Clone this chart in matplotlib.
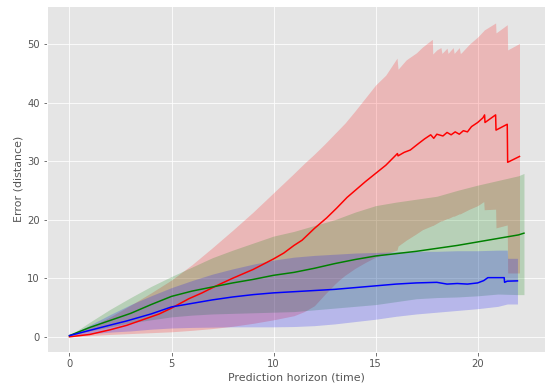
import matplotlib
matplotlib.use("Agg")
import matplotlib.pyplot as plt

plt.style.use("ggplot")

# ---- red series ----
red_mean_x = [0, 1, 2, 2.8, 3.5, 4.4, 5, 5.85, 6.5, 7.13, 8, 9, 10, 10.5, 11, 11.4, 12, 12.6, 13.1,
              13.6, 14, 14.5, 15, 15.5, 15.9, 16.07, 16.1, 16.4, 16.7, 17.1, 17.4, 17.7, 17.85, 18.0,
              18.3, 18.5, 18.7, 18.9, 19.1, 19.3, 19.5, 19.7, 20.0, 20.26, 20.34, 20.36, 20.88, 20.9,
              21.45, 21.47, 22.05]
red_mean = [0, 0.4, 1.2, 1.95, 2.8, 3.9, 4.9, 6.5, 7.5, 8.6, 10.0, 11.5, 13.3, 14.3, 15.6, 16.5, 18.5,
            20.3, 22.0, 23.8, 25.0, 26.5, 27.9, 29.3, 30.7, 31.3, 30.9, 31.5, 31.9, 33.0, 33.8, 34.5,
            33.9, 34.6, 34.3, 34.9, 34.5, 35.0, 34.6, 35.2, 35.0, 35.9, 36.6, 37.4, 37.9, 36.6, 37.9,
            35.3, 36.3, 29.8, 30.8]
red_band_x = [0, 1, 2, 3, 4, 5, 6, 7, 8, 9, 10, 11, 11.5, 12, 12.5, 13, 13.25, 13.5, 14, 14.5, 15,
              15.5, 16.05, 16.1, 16.5, 17, 17.3, 17.78, 17.8, 18.0, 18.2, 18.25, 18.5, 18.55, 18.8,
              18.85, 19.1, 19.15, 19.2, 19.6, 20.0, 20.3, 20.32, 20.88, 20.9, 21.45, 21.47, 22.05]
red_upper = [0, 1.6, 3.4, 5.4, 7.5, 9.7, 12.3, 15.2, 18.2, 21.3, 24.6, 27.9, 29.6, 31.2, 32.9, 34.7,
             35.6, 36.5, 38.6, 40.8, 43.0, 44.7, 47.6, 45.7, 47.3, 48.5, 49.5, 50.8, 48.3, 49.0, 49.4,
             48.4, 49.3, 48.4, 49.4, 48.4, 49.4, 48.4, 48.5, 50.0, 51.2, 52.3, 52.4, 53.6, 51.9, 53.3,
             49.0, 50.1]
red_lower = [0, 0.2, 0.4, 0.55, 0.7, 0.85, 1.1, 1.4, 1.8, 2.3, 2.9, 3.6, 4.3, 5.3, 7.2, 9.0, 9.8,
             10.5, 11.7, 12.7, 13.6, 14.2, 14.8, 15.5, 16.5, 17.6, 18.3, 19.0, 19.0, 19.4, 19.8, 19.8,
             20.2, 20.2, 20.6, 20.6, 21.0, 21.0, 21.1, 21.8, 22.4, 23.1, 21.7, 21.8, 18.6, 19.1, 10.9,
             10.9]

# ---- green series ----
green_x = [0, 1, 2, 3, 4, 5, 6, 7, 8, 9, 10, 11, 12, 13, 14, 15, 16, 17, 18, 19, 20, 21, 22, 22.27]
green_mean = [0.2, 1.6, 2.8, 4.0, 5.5, 6.9, 7.8, 8.5, 9.2, 9.8, 10.5, 11.0, 11.7, 12.5, 13.2, 13.8,
              14.2, 14.6, 15.1, 15.6, 16.2, 16.8, 17.4, 17.7]
green_upper = [0.2, 2.5, 4.7, 6.7, 8.6, 10.3, 11.9, 13.5, 14.8, 16.0, 17.2, 18.0, 19.0, 20.0, 21.3,
               22.4, 23.0, 23.5, 24.0, 25.0, 25.9, 26.7, 27.5, 27.9]
green_lower = [0.2, 1.0, 1.7, 2.4, 2.9, 3.4, 3.7, 3.9, 4.0, 4.1, 4.2, 4.3, 4.6, 4.9, 5.2, 5.5, 6.0,
               6.5, 6.7, 6.8, 7.0, 7.3, 7.2, 7.2]

# ---- blue series ----
blue_mean_x = [0, 1, 2, 2.8, 4, 5, 6, 7, 8, 9, 10, 11, 12, 13, 14, 15, 16, 17, 18, 18.5, 19, 19.5,
               20, 20.3, 20.5, 21.3, 21.32, 21.45, 21.95]
blue_mean = [0.2, 1.1, 2.0, 2.7, 3.9, 5.1, 5.7, 6.3, 6.8, 7.2, 7.5, 7.7, 7.9, 8.1, 8.4, 8.7, 9.0, 9.2,
             9.3, 9.0, 9.1, 9.0, 9.2, 9.6, 10.1, 10.1, 9.3, 9.5, 9.55]
blue_band_x = [0, 1, 2, 3, 4, 5, 6, 7, 8, 9, 10, 11, 12, 13, 14, 15, 16, 17, 18, 19, 20, 21, 21.45,
               21.47, 21.95]
blue_upper = [0.2, 2.0, 3.8, 5.5, 7.0, 8.4, 9.6, 10.7, 11.6, 12.4, 13.1, 13.6, 13.9, 14.1, 14.3,
              14.4, 14.5, 14.6, 14.6, 14.7, 14.7, 14.8, 14.8, 13.4, 13.4]
blue_lower = [0.2, 0.5, 0.8, 1.0, 1.3, 1.5, 1.6, 1.65, 1.7, 1.7, 1.7, 1.75, 1.9, 2.2, 2.6, 3.0, 3.5,
              3.9, 4.2, 4.5, 4.8, 5.2, 5.6, 5.6, 5.6]

xticks = [0, 5, 10, 15, 20]
yticks = [0, 10, 20, 30, 40, 50]

fig = plt.figure(figsize=(547 / 72, 383 / 72), dpi=72)
ax = fig.add_axes([47 / 547, 1 - 352 / 383, (545 - 47) / 547, (352 - 6) / 383])

ax.fill_between(red_band_x, red_lower, red_upper, color="r", alpha=0.2, linewidth=0)
ax.fill_between(green_x, green_lower, green_upper, color="g", alpha=0.2, linewidth=0)
ax.fill_between(blue_band_x, blue_lower, blue_upper, color="b", alpha=0.2, linewidth=0)

ax.plot(red_mean_x, red_mean, color="r", lw=1.5)
ax.plot(green_x, green_mean, color="g", lw=1.5)
ax.plot(blue_mean_x, blue_mean, color="b", lw=1.5)

ax.set_xticks(xticks)
ax.set_yticks(yticks)
ax.set_xlim(-1.1, 23.3)
ax.set_ylim(-2.6, 56.5)
ax.tick_params(labelsize=10)
ax.set_xlabel("Prediction horizon (time)", fontsize=11, color="#555555")
ax.set_ylabel("Error (distance)", fontsize=11, color="#555555")

fig.savefig("out.png", dpi=72)
